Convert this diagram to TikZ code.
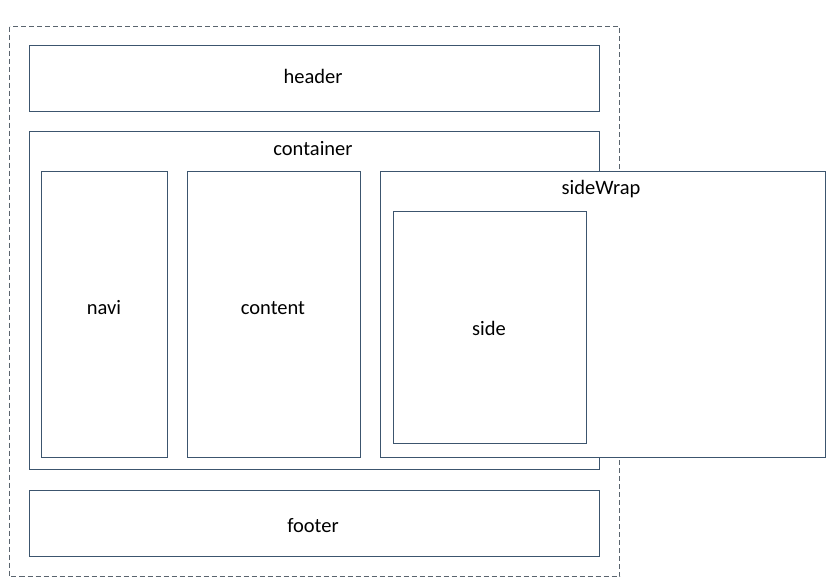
\documentclass[tikz,border=0pt]{standalone}
\usepackage{fontspec}
\setmainfont{Carlito}
\definecolor{boxc}{RGB}{60,85,110}
\definecolor{dashc}{RGB}{90,100,110}
\begin{document}
\begin{tikzpicture}[x=1pt,y=-1pt,
  blk/.style={draw=boxc,line width=1pt},
  outer/.style={draw=dashc,line width=1pt,dash pattern=on 5pt off 3pt},
  lbl/.style={font=\fontsize{20.5}{24}\selectfont,text=black,inner sep=0pt}]
\useasboundingbox (0,0) rectangle (837,587);
\draw[outer] (9.5,26.5) rectangle (619.5,576.5);
\draw[blk] (29.5,45.5) rectangle (599.5,111.5);
\draw[blk] (29.5,131.5) rectangle (599.5,469.5);
\draw[blk] (41.5,171.5) rectangle (167.5,457.5);
\draw[blk] (187.5,171.5) rectangle (360.5,457.5);
\draw[blk,fill=white] (380.5,171.5) rectangle (825.5,457.5);
\draw[blk] (393.5,211.5) rectangle (586.5,443.5);
\draw[blk] (29.5,490.5) rectangle (599.5,556.5);
\node[lbl] (header) at (313,76) {header};
\node[lbl] (container) at (313,149) {container};
\node[lbl] (navi) at (104,308) {navi};
\node[lbl] (content) at (273,308) {content};
\node[lbl] (sideWrap) at (601,189) {sideWrap};
\node[lbl] (side) at (489,328) {side};
\node[lbl] (footer) at (313,526) {footer};
\end{tikzpicture}
\end{document}
